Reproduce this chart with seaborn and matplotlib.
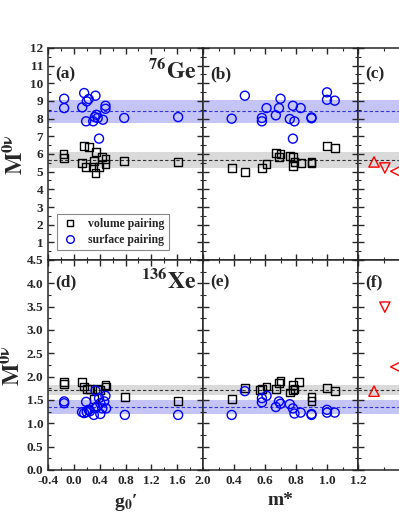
import numpy as np
import matplotlib
matplotlib.use("Agg")
import matplotlib.pyplot as plt
import seaborn as sns
from matplotlib.lines import Line2D
from matplotlib.ticker import MultipleLocator

# ---- data ----
# (a) 76Ge vs g0'
ge_g_vol = [-0.16, -0.15, 0.16, 0.23, 0.13, 0.19, 0.345, 0.31, 0.30, 0.335, 0.39, 0.44, 0.49, 0.49, 0.78, 1.615]
ge_M_vol_g = [6.02, 5.77, 6.47, 6.38, 5.49, 5.26, 6.09, 5.60, 5.26, 4.93, 5.26, 5.83, 5.73, 5.45, 5.58, 5.53]
ge_g_surf = [-0.15, -0.15, 0.16, 0.23, 0.20, 0.335, 0.13, 0.49, 0.49, 0.35, 0.325, 0.37, 0.19, 0.30, 0.45, 0.39, 0.78, 1.615]
ge_M_surf_g = [9.13, 8.60, 9.45, 9.11, 8.98, 9.30, 8.64, 8.73, 8.56, 8.22, 8.09, 8.04, 7.85, 7.85, 7.94, 6.87, 8.04, 8.09]

# (b) 76Ge vs m*
ge_m_vol = [0.385, 0.47, 0.58, 0.61, 0.67, 0.70, 0.69, 0.76, 0.78, 0.78, 0.79, 0.83, 0.90, 0.90, 1.00, 1.05]
ge_M_vol_m = [5.21, 4.96, 5.21, 5.43, 6.06, 6.02, 5.81, 5.87, 5.81, 5.34, 5.55, 5.49, 5.55, 5.50, 6.43, 6.34]
ge_m_surf = [0.385, 0.47, 0.58, 0.58, 0.61, 0.67, 0.69, 0.70, 0.76, 0.78, 0.79, 0.83, 0.90, 0.90, 0.78, 1.00, 1.00, 1.05]
ge_M_surf_m = [8.00, 9.30, 8.04, 7.85, 8.60, 8.19, 8.60, 9.13, 7.98, 8.73, 7.85, 8.60, 8.07, 8.02, 6.87, 9.49, 9.07, 9.02]

# (d) 136Xe vs g0'
xe_g_vol = [-0.15, -0.15, 0.127, 0.16, 0.20, 0.25, 0.31, 0.36, 0.41, 0.49, 0.50, 0.79, 1.615]
xe_M_vol_g = [1.88, 1.84, 1.88, 1.79, 1.74, 1.74, 1.52, 1.74, 1.71, 1.82, 1.79, 1.57, 1.48]
xe_g_surf = [-0.15, -0.15, 0.19, 0.127, 0.16, 0.20, 0.23, 0.25, 0.31, 0.335, 0.335, 0.36, 0.39, 0.41,
             0.44, 0.47, 0.49, 0.50, 0.41, 0.79, 1.615]
xe_M_surf_g = [1.47, 1.43, 1.46, 1.24, 1.22, 1.24, 1.29, 1.26, 1.18, 1.70, 1.33, 1.36, 1.54, 1.43,
               1.32, 1.47, 1.59, 1.32, 1.20, 1.18, 1.18]

# (e) 136Xe vs m*
xe_m_vol = [0.385, 0.47, 0.57, 0.58, 0.61, 0.67, 0.69, 0.70, 0.76, 0.78, 0.78, 0.79, 0.82, 0.90, 0.90, 1.00, 1.05]
xe_M_vol_m = [1.52, 1.75, 1.71, 1.74, 1.79, 1.73, 1.86, 1.90, 1.66, 1.82, 1.71, 1.74, 1.88, 1.57, 1.47, 1.75, 1.70]
xe_m_surf = [0.385, 0.47, 0.58, 0.58, 0.61, 0.67, 0.69, 0.70, 0.76, 0.78, 0.79, 0.83, 0.90, 0.90, 1.00, 1.00, 1.05]
xe_M_surf_m = [1.18, 1.69, 1.54, 1.45, 1.59, 1.35, 1.47, 1.42, 1.41, 1.32, 1.21, 1.23, 1.18, 1.20, 1.29, 1.23, 1.23]

# (c)/(f) other calculations (only partly visible)
other_x = [0.31, 0.52, 0.73]
other_markers = ["^", "v", "<"]
ge_other = [5.55, 5.21, 5.02]
xe_other = [1.69, 3.49, 2.21]

# bands: (mean, low, high)
ge_vol_band = (5.68, 5.21, 6.11)
ge_surf_band = (8.41, 7.75, 9.07)
xe_vol_band = (1.72, 1.60, 1.82)
xe_surf_band = (1.35, 1.19, 1.50)

# ---- style ----
sns.set_style("ticks")
plt.rcParams["font.family"] = ["Liberation Serif", "DejaVu Serif"]
plt.rcParams["font.weight"] = "bold"
plt.rcParams["mathtext.fontset"] = "stix"
plt.rcParams["axes.linewidth"] = 1.1

fig = plt.figure(figsize=(3.99, 5.16), dpi=100)
W, H = 399, 516
lefts = [48, 203, 358]
pw = 155
rows = {"top": (260, 212), "bot": (470, 210)}

axes = {}
for r, (ybot, ph) in rows.items():
    for c, lx in enumerate(lefts):
        ax = fig.add_axes([lx / W, (H - ybot) / H, pw / W, ph / H])
        axes[(r, c)] = ax

gray_band = "#dadada"
blue_band = "#c4c4f6"


def draw_bands(ax, vol, surf):
    ax.axhspan(vol[1], vol[2], color=gray_band, lw=0, zorder=0)
    ax.axhspan(surf[1], surf[2], color=blue_band, lw=0, zorder=0)
    ax.axhline(vol[0], color="#333333", ls=(0, (3, 2)), lw=0.8, zorder=1)
    ax.axhline(surf[0], color="#3333dd", ls=(0, (3, 2)), lw=0.8, zorder=1)


def draw_points(ax, xv, yv, xs, ys):
    sns.scatterplot(x=xv, y=yv, ax=ax, marker="s", s=32, facecolor="none",
                    edgecolor="black", linewidth=1.0, zorder=3)
    sns.scatterplot(x=xs, y=ys, ax=ax, marker="o", s=42, facecolor="none",
                    edgecolor="#0000ff", linewidth=1.0, zorder=3)


draw_bands(axes[("top", 0)], ge_vol_band, ge_surf_band)
draw_bands(axes[("top", 1)], ge_vol_band, ge_surf_band)
draw_bands(axes[("top", 2)], ge_vol_band, ge_surf_band)
draw_bands(axes[("bot", 0)], xe_vol_band, xe_surf_band)
draw_bands(axes[("bot", 1)], xe_vol_band, xe_surf_band)
draw_bands(axes[("bot", 2)], xe_vol_band, xe_surf_band)

draw_points(axes[("top", 0)], ge_g_vol, ge_M_vol_g, ge_g_surf, ge_M_surf_g)
draw_points(axes[("top", 1)], ge_m_vol, ge_M_vol_m, ge_m_surf, ge_M_surf_m)
draw_points(axes[("bot", 0)], xe_g_vol, xe_M_vol_g, xe_g_surf, xe_M_surf_g)
draw_points(axes[("bot", 1)], xe_m_vol, xe_M_vol_m, xe_m_surf, xe_M_surf_m)

for x, m, yg, yx in zip(other_x, other_markers, ge_other, xe_other):
    sns.scatterplot(x=[x], y=[yg], ax=axes[("top", 2)], marker=m, s=55, facecolor="none",
                    edgecolor="red", linewidth=1.0, zorder=3)
    sns.scatterplot(x=[x], y=[yx], ax=axes[("bot", 2)], marker=m, s=55, facecolor="none",
                    edgecolor="red", linewidth=1.0, zorder=3)

# ---- axes limits / ticks ----
xlims = [(-0.4, 2.0), (0.2, 1.2), (0.0, 3.0)]
xmaj = [0.4, 0.2, 1.0]
xmin = [0.2, 0.1, 0.5]
for (r, c), ax in axes.items():
    ax.set_xlim(*xlims[c])
    ax.xaxis.set_major_locator(MultipleLocator(xmaj[c]))
    ax.xaxis.set_minor_locator(MultipleLocator(xmin[c]))
    if r == "top":
        ax.set_ylim(0, 12)
        ax.yaxis.set_major_locator(MultipleLocator(1))
        ax.yaxis.set_minor_locator(MultipleLocator(0.5))
    else:
        ax.set_ylim(0, 4.5)
        ax.yaxis.set_major_locator(MultipleLocator(0.5))
        ax.yaxis.set_minor_locator(MultipleLocator(0.25))
    ax.tick_params(which="both", direction="in", top=True, right=True, labelsize=9.5)
    ax.tick_params(which="major", length=4, width=1.0)
    ax.tick_params(which="minor", length=2, width=0.8)
    if c != 0:
        ax.tick_params(labelleft=False)
    if r == "top" or c == 2:
        ax.tick_params(labelbottom=False)
    ax.set_xlabel("")
    ax.set_ylabel("")

axes[("top", 0)].set_yticks(np.arange(1, 13, 1))
axes[("bot", 0)].set_yticks(np.arange(0, 4.51, 0.5))
axes[("bot", 0)].set_yticklabels([f"{v:.1f}" for v in np.arange(0, 4.51, 0.5)])
axes[("bot", 0)].set_xticks(np.arange(-0.4, 2.01, 0.4))
axes[("bot", 0)].set_xticklabels(["-0.4", "0.0", "0.4", "0.8", "1.2", "1.6", "2.0"])
axes[("bot", 1)].set_xticks(np.arange(0.4, 1.21, 0.2))
axes[("bot", 1)].set_xticklabels(["0.4", "0.6", "0.8", "1.0", "1.2"])
for ax in axes.values():
    for lab in ax.get_xticklabels() + ax.get_yticklabels():
        lab.set_fontweight("bold")

# ---- labels ----
for r in ("top", "bot"):
    axes[(r, 0)].set_ylabel(r"$\mathbf{M^{0\nu}}$", fontsize=17, labelpad=2)
axes[("bot", 0)].set_xlabel("g$_{\\mathbf{0}}$\u2032", fontsize=14, fontweight="bold", labelpad=4)
axes[("bot", 1)].set_xlabel("m*", fontsize=14, fontweight="bold", labelpad=4)

tag_y = {"top": 0.915, "bot": 0.93}
panel_tags = {("top", 0): "(a)", ("top", 1): "(b)", ("top", 2): "(c)",
              ("bot", 0): "(d)", ("bot", 1): "(e)", ("bot", 2): "(f)"}
for key, tag in panel_tags.items():
    axes[key].text(0.045, tag_y[key[0]], tag, transform=axes[key].transAxes, fontsize=12.5,
                   fontweight="bold", va="top", ha="left")
axes[("top", 0)].text(0.96, 0.945, r"$\mathbf{^{76}Ge}$", transform=axes[("top", 0)].transAxes,
                      fontsize=17, va="top", ha="right")
axes[("bot", 0)].text(0.96, 0.955, r"$\mathbf{^{136}Xe}$", transform=axes[("bot", 0)].transAxes,
                      fontsize=17, va="top", ha="right")

handles = [Line2D([], [], ls="none", marker="s", ms=5, mfc="none", mec="black", mew=1.0),
           Line2D([], [], ls="none", marker="o", ms=5.5, mfc="none", mec="#0000ff", mew=1.0)]
leg = axes[("top", 0)].legend(handles, ["volume pairing", "surface pairing"], loc="lower left",
                              bbox_to_anchor=(0.02, 0.02), fancybox=False, edgecolor="#888888",
                              framealpha=1, prop={"weight": "bold", "size": 8.5},
                              handletextpad=0.8, borderpad=0.35, labelspacing=0.3,
                              handlelength=1.5)
leg.get_frame().set_linewidth(0.8)

fig.savefig("out.png", dpi=100)
